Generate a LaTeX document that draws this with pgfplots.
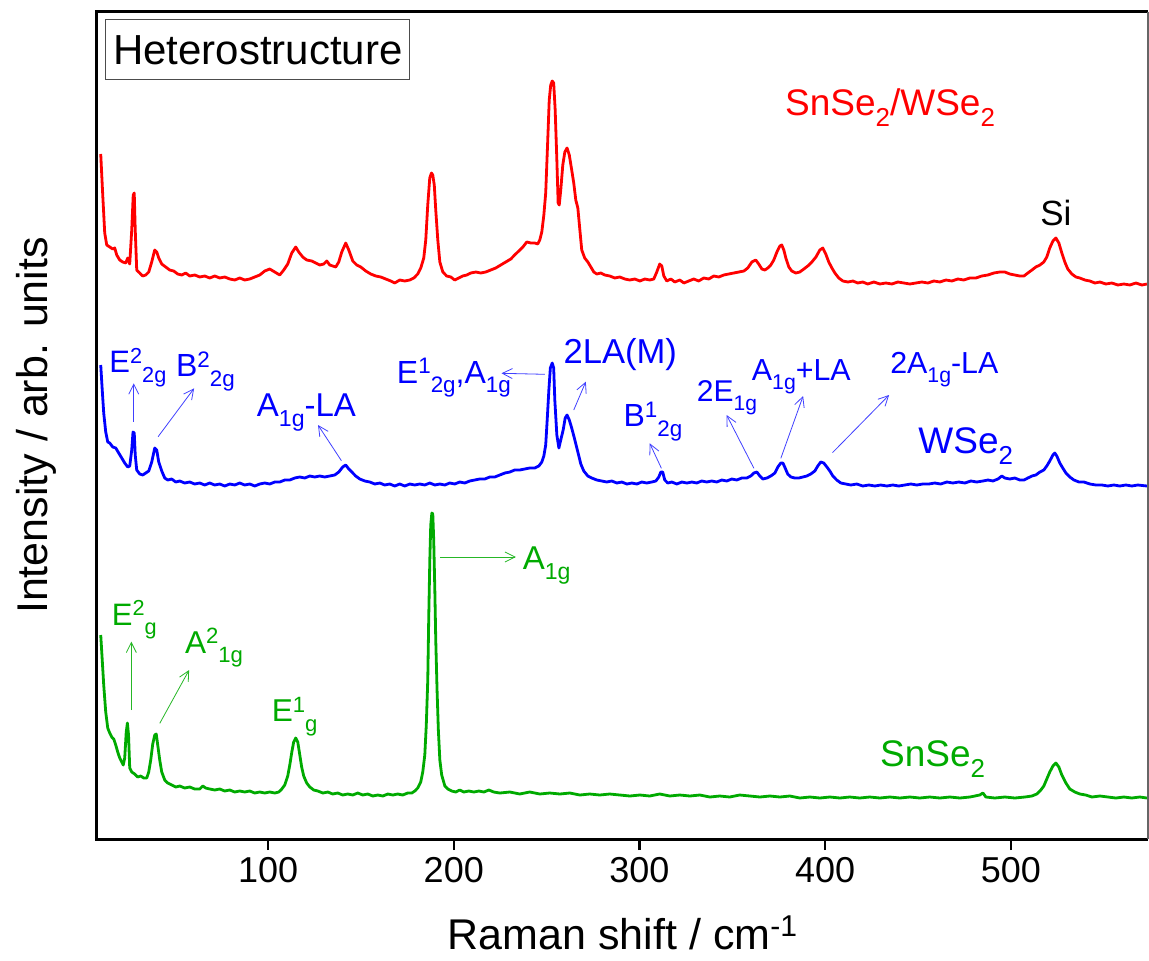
\documentclass[border=0pt]{standalone}
\usepackage{fontspec}
\setmainfont{Liberation Sans}
\usepackage{graphicx}
\usepackage{pgfplots}
\pgfplotsset{compat=1.18}
\usetikzlibrary{arrows.meta}

\definecolor{spred}{RGB}{255,0,0}
\definecolor{spblue}{RGB}{0,0,255}
\definecolor{spgreen}{RGB}{0,170,0}

% raised / lowered indices set one after the other (Origin style)
\newcommand{\up}[1]{\raisebox{0.3em}{\scalebox{0.7}{#1}}}
\newcommand{\dn}[1]{\raisebox{-0.3em}{\scalebox{0.7}{#1}}}
\newcommand{\fs}[1]{\fontsize{#1}{#1}\selectfont}
\newcommand{\namefont}{\fs{18.5}}

\tikzset{
  mode/.style={anchor=base west, inner sep=0pt, font=\fs{16}},
  ann/.style={-{Straight Barb[length=5pt,width=5pt]}, line width=0.4pt},
}

\begin{document}
\begin{tikzpicture}
\useasboundingbox (-48.5pt,-60.5pt) rectangle (526pt,419.5pt);
\begin{axis}[
  scale only axis, width=525.5pt, height=413.5pt,
  xmin=7.9, xmax=573.8, ymin=0, ymax=827,
  clip=false,
  axis line style={draw=none},
  xtick={100,200,300,400,500}, ytick=\empty,
  xtick pos=left, tick align=outside,
  major tick length=5.5pt,
  every tick/.style={black, line width=1pt},
  /pgf/number format/assume math mode=true,
  xticklabel style={font=\fs{18}},
  xlabel={Raman shift / cm\up{-1}},
  ylabel={Intensity / arb. units},
  label style={font=\fs{21.5}},
  xlabel style={at={(axis description cs:0.5,-0.134)}, anchor=base},
  ylabel style={at={(axis description cs:-0.047,0.5)}, anchor=base},
  every axis plot/.append style={line width=1.4pt, line join=round},
]

% SnSe2/WSe2 heterostructure
\addplot[spred] coordinates {
(9.91,685) (10.99,644) (12.06,606) (13.14,594) (14.76,592) (16.37,590) (17.45,591) (18.52,584) (20.14,579) (21.76,577) (23.37,576) (24.45,581) (25.52,575) (26.6,609) (27.41,644) (27.95,646) (28.49,609) (29.29,569) (30.91,566) (32.52,563) (34.14,564) (35.76,567) (37.37,577) (38.99,589) (40.06,587) (41.14,581) (42.76,575) (44.91,572) (47.06,569) (49.22,568) (51.37,565) (53.53,564) (55.68,566) (57.83,563) (60.53,564) (63.22,562) (65.91,563) (68.6,561) (71.3,563) (73.99,561) (76.68,562) (79.38,560) (82.07,559) (84.76,561) (87.45,559) (90.15,560) (92.84,562) (95.53,564) (98.22,568) (100.92,570) (103.61,567) (106.3,564) (108.45,569) (110.61,575) (112.76,586) (114.92,592) (116.53,587) (118.68,582) (120.84,579) (123.53,578) (125.69,576) (127.84,574) (129.99,575) (131.61,578) (133.22,574) (134.84,573) (136.46,572) (138.07,577) (139.69,587) (141.84,596) (143.46,589) (145.61,578) (147.77,574) (149.92,572) (152.61,568) (155.3,565) (158.0,563) (160.69,562) (163.38,560) (166.07,558) (168.23,556) (170.92,559) (173.61,558) (176.31,559) (178.46,561) (180.61,565) (182.23,571) (183.84,581) (184.92,599) (185.99,634) (187.07,661) (188.0,666) (188.69,664) (189.5,654) (190.3,629) (191.4,599) (192.5,577) (194.1,567) (196.2,563) (198.4,562) (200.5,559) (202.7,561) (204.8,563) (207.0,564) (209.2,566) (211.9,567) (214.5,566) (217.2,567) (219.9,569) (222.6,571) (225.3,574) (228.0,577) (230.7,580) (232.8,584) (235.0,588) (237.2,592) (239.3,597) (241.5,596) (243.6,596) (245.2,595) (246.3,599) (247.4,607) (248.5,624) (249.5,646) (250.6,699) (251.4,739) (252.2,754) (253.0,758) (253.8,756) (254.6,729) (255.5,679) (256.2,636) (256.8,634) (257.6,649) (258.7,674) (259.8,687) (261.0,691) (262.2,684) (263.5,669) (264.6,656) (265.7,639) (266.8,631) (267.9,609) (268.9,589) (270.5,581) (272.2,577) (273.8,572) (275.4,567) (277.0,565) (279.2,566) (281.3,564) (284.0,563) (286.7,561) (289.4,562) (292.1,560) (294.8,559) (297.5,560) (300.2,558) (302.9,560) (305.5,559) (307.7,560) (309.3,567) (310.9,575) (312.0,573) (313.1,563) (314.7,558) (316.9,560) (319.0,557) (321.7,559) (323.9,556) (326.5,558) (329.2,560) (331.9,558) (334.6,561) (337.3,560) (340.0,563) (342.7,562) (345.4,564) (348.1,565) (350.8,566) (353.5,567) (356.2,568) (358.3,571) (360.5,577) (362.6,579) (364.2,575) (365.9,570) (367.5,569) (369.1,571) (370.7,574) (372.3,579) (374.0,587) (375.6,593) (376.6,594) (377.7,589) (378.8,581) (380.4,572) (382.0,568) (384.2,566) (386.3,567) (388.5,570) (390.6,573) (392.8,577) (395.0,582) (397.1,589) (398.7,591) (400.3,585) (401.9,577) (403.6,571) (405.2,566) (407.3,561) (409.5,558) (412.2,557) (414.9,558) (417.5,556) (420.2,557) (422.9,555) (426.2,557) (429.4,555) (432.6,556) (435.9,555) (439.1,557) (442.3,556) (445.6,555) (448.8,556) (452.0,557) (455.3,556) (458.5,558) (461.7,557) (465.0,559) (468.2,558) (471.4,560) (474.6,559) (477.9,561) (481.1,561) (484.3,563) (487.6,564) (490.8,566) (494.0,567) (496.7,567) (499.4,565) (502.1,564) (504.8,563) (507.0,563) (509.1,566) (511.3,569) (513.4,572) (515.6,574) (517.7,577) (519.3,582) (520.9,591) (522.6,598) (524.2,601) (525.8,596) (527.4,586) (529.0,577) (530.6,570) (532.8,565) (535.0,562) (537.1,561) (539.8,559) (542.5,558) (545.2,556) (547.9,557) (551.1,555) (554.3,556) (557.6,554) (560.8,555) (564.0,554) (567.3,556) (570.5,554) (573.2,555)
};

% WSe2
\addplot[spblue] coordinates {
(9.91,474) (10.72,449) (11.52,426) (12.6,407) (13.68,397) (14.76,396) (16.37,392) (17.99,391) (19.6,386) (21.22,381) (22.83,376) (24.45,372) (25.52,373) (26.6,389) (27.3,407) (27.95,406) (28.49,384) (29.29,369) (30.91,365) (32.52,364) (34.14,366) (35.76,368) (37.37,377) (38.99,391) (40.06,389) (41.14,377) (42.76,368) (44.37,361) (45.99,359) (48.14,360) (50.3,357) (52.45,358) (55.14,356) (57.83,357) (60.53,355) (63.22,356) (65.91,354) (68.6,356) (71.3,354) (73.99,355) (76.68,353) (79.38,355) (82.07,354) (84.76,356) (87.45,354) (90.15,355) (92.84,353) (95.53,355) (98.22,356) (100.92,355) (103.61,357) (106.3,357) (109.0,359) (111.7,359) (114.4,361) (117.1,362) (119.8,361) (122.5,363) (125.1,362) (127.8,363) (130.5,362) (133.2,363) (135.9,364) (138.1,367) (140.2,372) (141.8,374) (143.5,370) (145.1,367) (147.2,363) (149.4,360) (152.1,358) (154.8,357) (157.5,355) (160.2,356) (162.8,354) (165.5,355) (168.2,353) (170.9,355) (173.6,353) (176.3,355) (179.0,354) (181.7,355) (184.4,354) (187.1,356) (189.8,354) (192.5,355) (195.2,354) (197.8,356) (200.5,355) (203.2,357) (205.9,356) (208.6,358) (211.3,359) (214.0,360) (216.7,360) (219.4,362) (222.1,362) (224.8,364) (227.5,366) (230.2,367) (232.8,369) (235.5,369) (238.2,370) (240.9,371) (243.6,371) (245.8,373) (247.4,377) (248.5,383) (249.5,394) (250.3,419) (251.2,449) (252.0,471) (253.0,476) (253.8,471) (254.4,439) (255.5,404) (256.6,391) (257.6,399) (258.9,409) (260.0,421) (261.0,424) (262.2,419) (263.5,411) (265.2,399) (266.8,387) (268.4,375) (270.0,368) (272.2,363) (274.3,361) (277.0,359) (279.7,358) (282.4,357) (285.1,358) (287.8,356) (290.5,357) (293.2,355) (295.9,356) (298.6,355) (301.2,357) (303.9,356) (306.6,357) (308.8,358) (310.4,362) (311.5,367) (312.5,367) (313.6,359) (315.2,356) (317.4,357) (320.1,355) (322.8,357) (325.5,356) (328.2,357) (330.8,356) (333.5,358) (336.2,357) (338.9,358) (341.6,357) (344.3,359) (347.0,358) (349.7,360) (352.4,359) (355.1,361) (357.8,361) (359.9,363) (361.6,366) (363.2,367) (364.8,363) (366.4,360) (368.6,361) (370.7,363) (372.9,366) (374.5,372) (376.1,376) (377.2,376) (378.2,372) (379.8,365) (381.5,362) (383.6,361) (385.8,361) (387.9,362) (390.1,363) (392.2,365) (394.4,368) (396.0,373) (397.6,377) (399.2,376) (400.9,372) (402.5,368) (404.1,363) (406.2,359) (408.4,356) (411.1,355) (413.8,354) (417.0,355) (420.2,353) (423.5,354) (426.7,353) (429.9,354) (433.2,353) (436.4,354) (439.6,353) (442.9,354) (446.1,355) (449.3,354) (452.6,355) (455.8,355) (459.0,356) (462.2,355) (465.5,357) (468.7,356) (471.9,357) (475.2,356) (478.4,358) (481.6,357) (484.9,358) (487.6,359) (490.3,358) (493.0,360) (495.1,363) (496.7,361) (499.4,360) (502.1,361) (504.8,359) (507.0,359) (509.1,361) (511.3,363) (513.4,364) (515.6,367) (517.7,369) (519.3,373) (520.9,378) (522.6,384) (523.6,386) (524.7,383) (526.3,376) (527.9,371) (529.6,366) (531.7,362) (533.9,359) (536.6,357) (539.3,357) (542.5,355) (545.7,354) (549.0,354) (552.2,353) (555.4,354) (558.6,353) (561.9,354) (565.1,353) (568.3,354) (573.2,353)
};

% SnSe2
\addplot[spgreen] coordinates {
(9.91,204) (10.72,179) (11.52,154) (12.6,127) (13.68,111) (14.76,106) (15.83,102) (16.91,100) (17.99,94) (19.06,87) (20.14,81) (21.22,77) (22.03,74) (22.83,81) (23.64,107) (24.28,116) (24.88,104) (25.52,71) (26.6,67) (28.22,65) (29.83,62) (31.45,63) (33.06,61) (34.68,61) (35.76,67) (36.83,79) (37.91,95) (38.99,104) (39.8,105) (40.6,94) (41.68,79) (42.76,67) (44.37,59) (45.99,56) (48.14,54) (50.3,52) (52.45,53) (55.14,51) (57.83,52) (60.53,50) (63.22,50) (64.84,53) (66.45,51) (68.6,50) (71.3,49) (73.99,50) (76.68,48) (79.38,49) (82.07,47) (84.76,48) (87.45,47) (90.15,48) (92.84,46) (95.53,47) (98.22,46) (100.92,47) (103.61,46) (105.76,47) (107.4,50) (109.0,54) (110.6,63) (111.7,74) (112.8,87) (113.8,97) (114.9,101) (116.0,97) (117.1,84) (118.1,72) (119.2,63) (120.8,56) (122.5,52) (124.6,49) (126.8,48) (129.5,46) (132.2,47) (134.8,45) (137.5,46) (140.2,44) (142.9,45) (145.6,44) (148.3,46) (151.0,44) (153.7,45) (156.4,43) (159.1,44) (161.8,43) (164.5,45) (167.2,44) (169.8,45) (172.5,44) (175.2,46) (177.4,46) (179.0,48) (180.6,51) (182.2,57) (183.3,67) (184.4,84) (185.2,114) (186.0,159) (186.5,219) (187.1,279) (187.6,314) (188.2,326) (188.7,325) (189.2,299) (189.8,249) (190.3,199) (191.0,149) (191.7,109) (192.5,79) (193.5,64) (195.2,53) (196.8,50) (198.9,48) (201.1,47) (203.2,49) (205.4,47) (208.1,48) (210.8,47) (213.5,48) (216.2,47) (218.9,49) (221.5,47) (224.8,46) (230.2,47) (235.5,45) (240.9,47) (246.3,45) (251.7,46) (257.1,45) (262.5,46) (267.9,44) (273.2,45) (278.6,44) (284.0,45) (289.4,44) (294.8,43) (300.2,44) (305.5,43) (310.9,45) (316.3,43) (321.7,44) (327.1,43) (332.5,44) (337.9,42) (343.2,43) (348.6,42) (354.0,44) (359.4,43) (364.8,42) (370.2,43) (375.6,42) (380.9,43) (386.3,41) (391.7,42) (397.1,41) (402.5,42) (407.9,41) (413.2,42) (418.6,41) (424.0,42) (429.4,41) (434.8,42) (440.2,41) (445.6,42) (450.9,41) (456.3,42) (461.7,41) (467.1,42) (472.5,41) (477.9,42) (483.2,44) (484.9,46) (486.5,42) (491.3,41) (496.7,42) (502.1,41) (507.5,42) (511.3,43) (513.9,45) (516.1,49) (517.7,53) (519.3,60) (520.9,67) (522.6,73) (524.2,76) (525.8,72) (527.4,64) (529.6,56) (531.7,50) (534.4,47) (537.1,45) (540.3,44) (543.6,42) (547.9,43) (552.2,42) (556.5,41) (560.8,42) (565.1,41) (569.4,42) (573.2,41)
};

% frame: heavy left, top and bottom, light right
\draw[black, line width=1.5pt] (rel axis cs:1,1) -- (rel axis cs:0,1) -- (rel axis cs:0,0) -- (rel axis cs:1,0);
\draw[black!60, line width=0.6pt] (rel axis cs:1,0) -- (rel axis cs:1,1);

% title box
\node[draw=black!70, line width=0.5pt, anchor=north west, minimum width=152pt, minimum height=30pt, inner sep=0pt,
      font=\fs{21}] at (12.44,819.7) {Heterostructure};

% sample names
\node[anchor=base west, inner sep=0pt, font=\namefont, text=spred] at (378.2,724) {SnSe\dn{2}/WSe\dn{2}};
\node[anchor=base, inner sep=0pt, font=\fs{17.5}] at (524.2,614) {Si};
\node[anchor=base west, inner sep=0pt, font=\namefont, text=spblue] at (450.0,385.7) {WSe\dn{2}};
\node[anchor=base west, inner sep=0pt, font=\namefont, text=spgreen] at (429.4,72.3) {SnSe\dn{2}};

% WSe2 mode assignments
\begin{scope}[spblue]
\node[mode, font=\fs{15.5}] at (14.4,466.3) {E\up{2}\dn{2g}};
\node[mode] at (50.3,462.3) {B\up{2}\dn{2g}};
\node[mode, font=\fs{16.5}] at (93.8,422.3) {A\dn{1g}-LA};
\node[mode] at (169.2,456) {E\up{1}\dn{2g},A\dn{1g}};
\node[mode, font=\fs{17.3}] at (258.9,475.7) {2LA(M)};
\node[mode] at (291.2,412.3) {B\up{1}\dn{2g}};
\node[mode, font=\fs{15}] at (330.7,437.3) {2E\dn{1g}};
\node[mode, font=\fs{15.2}] at (360.3,459) {A\dn{1g}+LA};
\node[mode, font=\fs{15.2}] at (434.8,465.7) {2A\dn{1g}-LA};
\end{scope}
\begin{scope}[spblue!75]
\draw[ann] (27.7,417.3) -- (27.7,455.7);
\draw[ann] (40.8,402.3) -- (60.2,450.7);
\draw[ann] (139.5,378.3) -- (126.9,414);
\draw[ann] (249,464.7) -- (225.7,465.7);
\draw[ann] (264.6,429) -- (271.1,457.3);
\draw[ann] (311.8,370.7) -- (305.5,395.7);
\draw[ann] (361.6,370.7) -- (346.9,424);
\draw[ann] (376.1,380.7) -- (388.1,443);
\draw[ann] (403.9,386.3) -- (434.4,444);
\end{scope}

% SnSe2 mode assignments
\begin{scope}[spgreen]
\node[mode, font=\fs{15.5}] at (15.7,214) {E\up{2}\dn{g}};
\node[mode, font=\fs{15.8}] at (55.1,185.7) {A\up{2}\dn{1g}};
\node[mode, font=\fs{15.8}] at (101.8,117.3) {E\up{1}\dn{g}};
\node[mode, font=\fs{16.5}] at (237,269.7) {A\dn{1g}};
\end{scope}
\begin{scope}[spgreen!85]
\draw[ann] (26.4,129) -- (26.4,197.3);
\draw[ann] (41.7,115.7) -- (57.5,169);
\draw[ann] (192.5,282) -- (233.4,282);
\end{scope}

\end{axis}
\end{tikzpicture}
\end{document}
